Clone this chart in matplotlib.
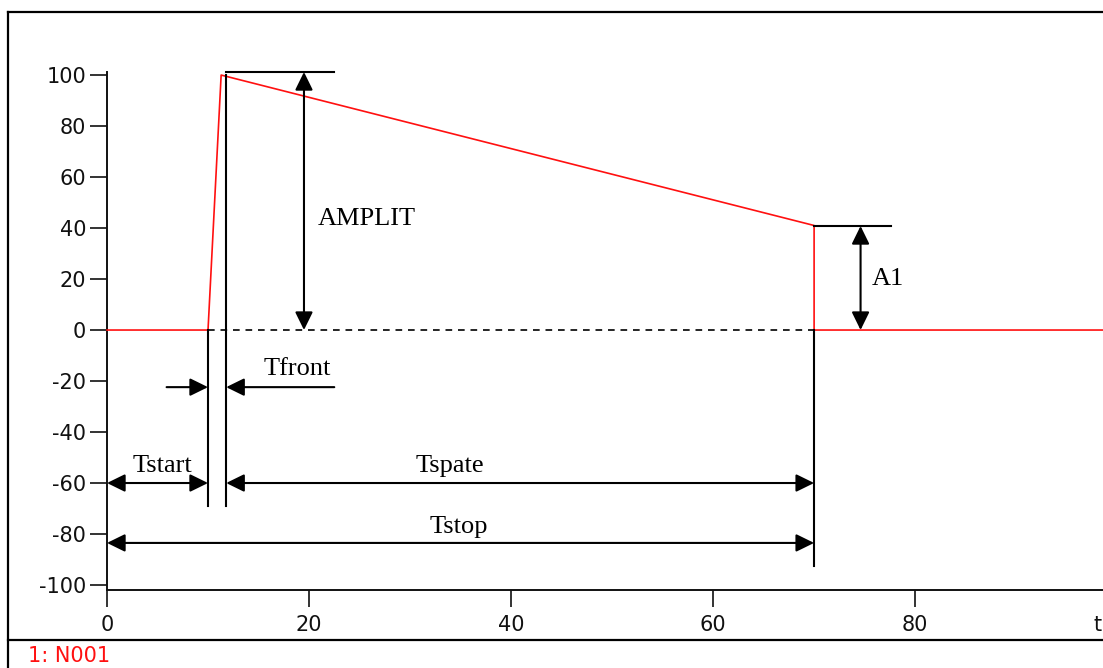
import matplotlib
matplotlib.use("Agg")
import matplotlib.pyplot as plt
from matplotlib.lines import Line2D

plt.rcParams["axes.unicode_minus"] = False

# ---- data ----
t_wave = [0, 10, 11.3, 70, 70, 98.6]
v_wave = [0, 0, 100, 41, 0, 0]
x_ticks = [0, 20, 40, 60, 80]
y_ticks = [-100, -80, -60, -40, -20, 0, 20, 40, 60, 80, 100]

T_START = 10
T_FRONT_END = 11.8
T_STOP = 70
AMPLIT = 100
A1 = 41
legend_label = "1: N001"
x_label = "t"

W, H = 1103, 668
fig = plt.figure(figsize=(W / 100, H / 100), dpi=100)

def fx(px):
    return px / W

def fy(py):
    return 1 - py / H

# axes placement
ax = fig.add_axes([fx(107), fy(590), 1 - fx(107), fy(72) - fy(590)])
ax.set_xlim(0, 98.6)
ax.set_ylim(-101.96, 101.2)

for s in ["top", "right"]:
    ax.spines[s].set_visible(False)
for s in ["left", "bottom"]:
    ax.spines[s].set_linewidth(1.4)
    ax.spines[s].set_color("#111111")

ax.set_xticks(x_ticks)
ax.set_yticks(y_ticks)
ax.tick_params(axis="both", direction="out", length=12, width=1.2, color="#111111",
               labelsize=15, labelcolor="#111111")
ax.tick_params(axis="y", pad=3)
ax.tick_params(axis="x", pad=6)
for lab in ax.get_xticklabels() + ax.get_yticklabels():
    lab.set_family("DejaVu Sans")

# waveform
ax.plot(t_wave, v_wave, color="#ff1010", lw=1.2, clip_on=False, zorder=3)

# dashed zero line
ax.plot([T_START, T_STOP], [0, 0], color="black", lw=1.2, ls=(0, (4, 3.5)), zorder=2)

blk = dict(color="black", lw=1.5, clip_on=False, zorder=4)
# vertical guide lines
ax.plot([T_START, T_START], [0, -69], **blk)
ax.plot([T_FRONT_END, T_FRONT_END], [AMPLIT, -69], **blk)
ax.plot([T_STOP, T_STOP], [0, -92.5], **blk)
# horizontal guide lines
ax.plot([T_FRONT_END, 22.5], [101.2, 101.2], **blk)
ax.plot([T_STOP, 77.6], [40.8, 40.8], **blk)

def arrow(x0, y0, x1, y1, style):
    ax.annotate("", xy=(x1, y1), xytext=(x0, y0), annotation_clip=False,
                arrowprops=dict(arrowstyle=style + ",head_length=0.55,head_width=0.27",
                                mutation_scale=20, color="black", lw=1.5,
                                shrinkA=0, shrinkB=0), zorder=5)

dbl = "<|-|>"
arrow(19.5, 0, 19.5, 101.2, dbl)            # AMPLIT
arrow(74.6, 0, 74.6, 40.8, dbl)             # A1
arrow(0, -60, T_START, -60, dbl)            # Tstart
arrow(T_FRONT_END, -60, T_STOP, -60, dbl)   # Tspate
arrow(0, -83.5, T_STOP, -83.5, dbl)         # Tstop
arrow(5.9, -22.4, T_START, -22.4, "-|>")    # Tfront left
arrow(22.5, -22.4, T_FRONT_END, -22.4, "-|>")  # Tfront right

serif = dict(family="Liberation Serif", fontsize=19, color="black", va="baseline", zorder=6)
ax.text(20.9, 41.2, "AMPLIT", ha="left", **serif)
ax.text(15.45, -17.6, "Tfront", ha="left", **serif)
ax.text(5.5, -55.7, "Tstart", ha="center", **serif)
ax.text(33.9, -55.7, "Tspate", ha="center", **serif)
ax.text(34.8, -79.6, "Tstop", ha="center", **serif)
ax.text(75.7, 17.6, "A1", ha="left", **serif)

# axis label 't'
fig.text(fx(1093), fy(625), x_label, fontsize=15, family="DejaVu Sans",
         color="#111111", ha="left", va="center")

# outer frame
frame = dict(color="black", lw=1.6, transform=fig.transFigure)
fig.add_artist(Line2D([fx(8), 1], [fy(12), fy(12)], **frame))
fig.add_artist(Line2D([fx(8), fx(8)], [fy(12), 0], **frame))
fig.add_artist(Line2D([fx(8), 1], [fy(640), fy(640)], **frame))

fig.text(fx(28), fy(656), legend_label, fontsize=15, family="DejaVu Sans",
         color="#ff1010", ha="left", va="center")

fig.savefig("out.png", dpi=100)
